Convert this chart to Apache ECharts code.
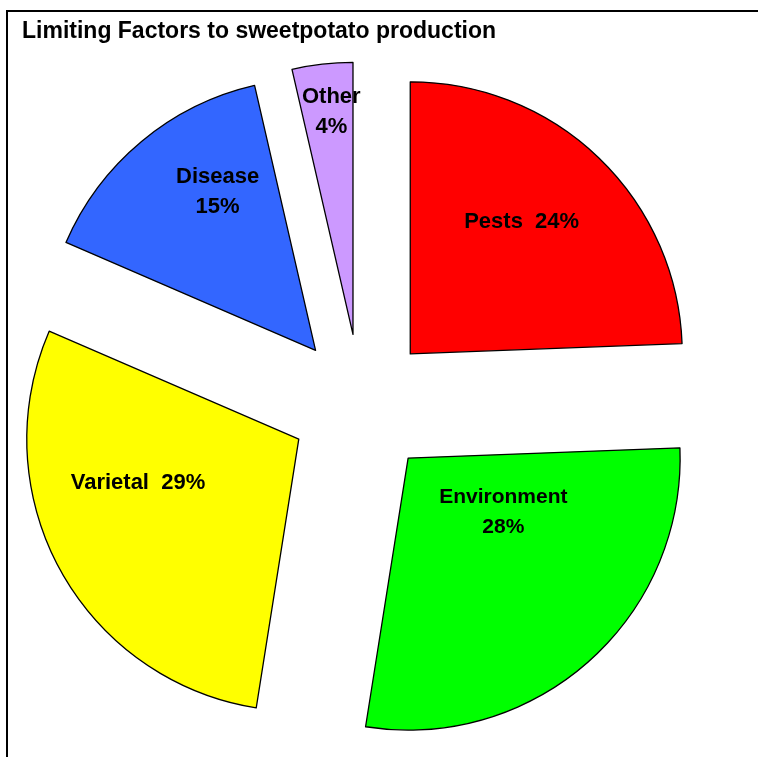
<!DOCTYPE html>
<html>
<head>
<meta charset="utf-8">
<script src="https://cdn.jsdelivr.net/npm/echarts@6/dist/echarts.min.js"></script>
<style>
html,body{margin:0;padding:0;background:#fff;}
#chart{width:758px;height:757px;}
</style>
</head>
<body>
<div id="chart"></div>
<script>
const titleText = 'Limiting Factors to sweetpotato production';
const categories = ['Pests', 'Environment', 'Varietal', 'Disease', 'Other'];
const values = [24.4, 28.1, 29.0, 14.9, 3.6];
const colors = ['#FF0000', '#00FF00', '#FFFF00', '#3366FF', '#CC99FF'];
const labelSeparators = ['  ', '\n', '  ', '\n', '\n'];
const labelShifts = [[15, -32], [3, -50], [-39, -23], [-9, -52], [-6, -84]];
const labelFontSizes = [22, 21, 22, 22, 22];

const chart = echarts.init(document.getElementById('chart'), null, {renderer: 'canvas'});
chart.setOption({
  backgroundColor: '#fff',
  animation: false,
  title: {
    text: titleText,
    left: 17,
    top: 15,
    textStyle: {fontFamily: 'Liberation Sans, Arial', fontWeight: 'bold', fontSize: 23, color: '#000'}
  },
  graphic: [{
    type: 'rect',
    shape: {x: 7, y: 11, width: 800, height: 800},
    style: {fill: 'none', stroke: '#000', lineWidth: 2},
    silent: true
  }],
  series: [{
    type: 'pie',
    center: [361, 405],
    radius: [0, 272],
    startAngle: 90,
    clockwise: true,
    selectedMode: 'multiple',
    selectedOffset: 71,
    avoidLabelOverlap: false,
    emphasis: {disabled: true},
    itemStyle: {borderColor: '#000', borderWidth: 1.3},
    label: {
      show: true,
      position: 'inside',
      fontFamily: 'Liberation Sans, Arial',
      fontWeight: 'bold',
      fontSize: 22,
      lineHeight: 30,
      color: '#000',
      formatter: p => p.name + labelSeparators[p.dataIndex] + Math.round(p.percent) + '%'
    },
    labelLine: {show: false},
    labelLayout: p => ({dx: labelShifts[p.dataIndex][0], dy: labelShifts[p.dataIndex][1]}),
    data: categories.map((c, i) => ({
      name: c,
      value: values[i],
      selected: true,
      itemStyle: {color: colors[i]},
      label: {fontSize: labelFontSizes[i]}
    }))
  }]
});
</script>
</body>
</html>
